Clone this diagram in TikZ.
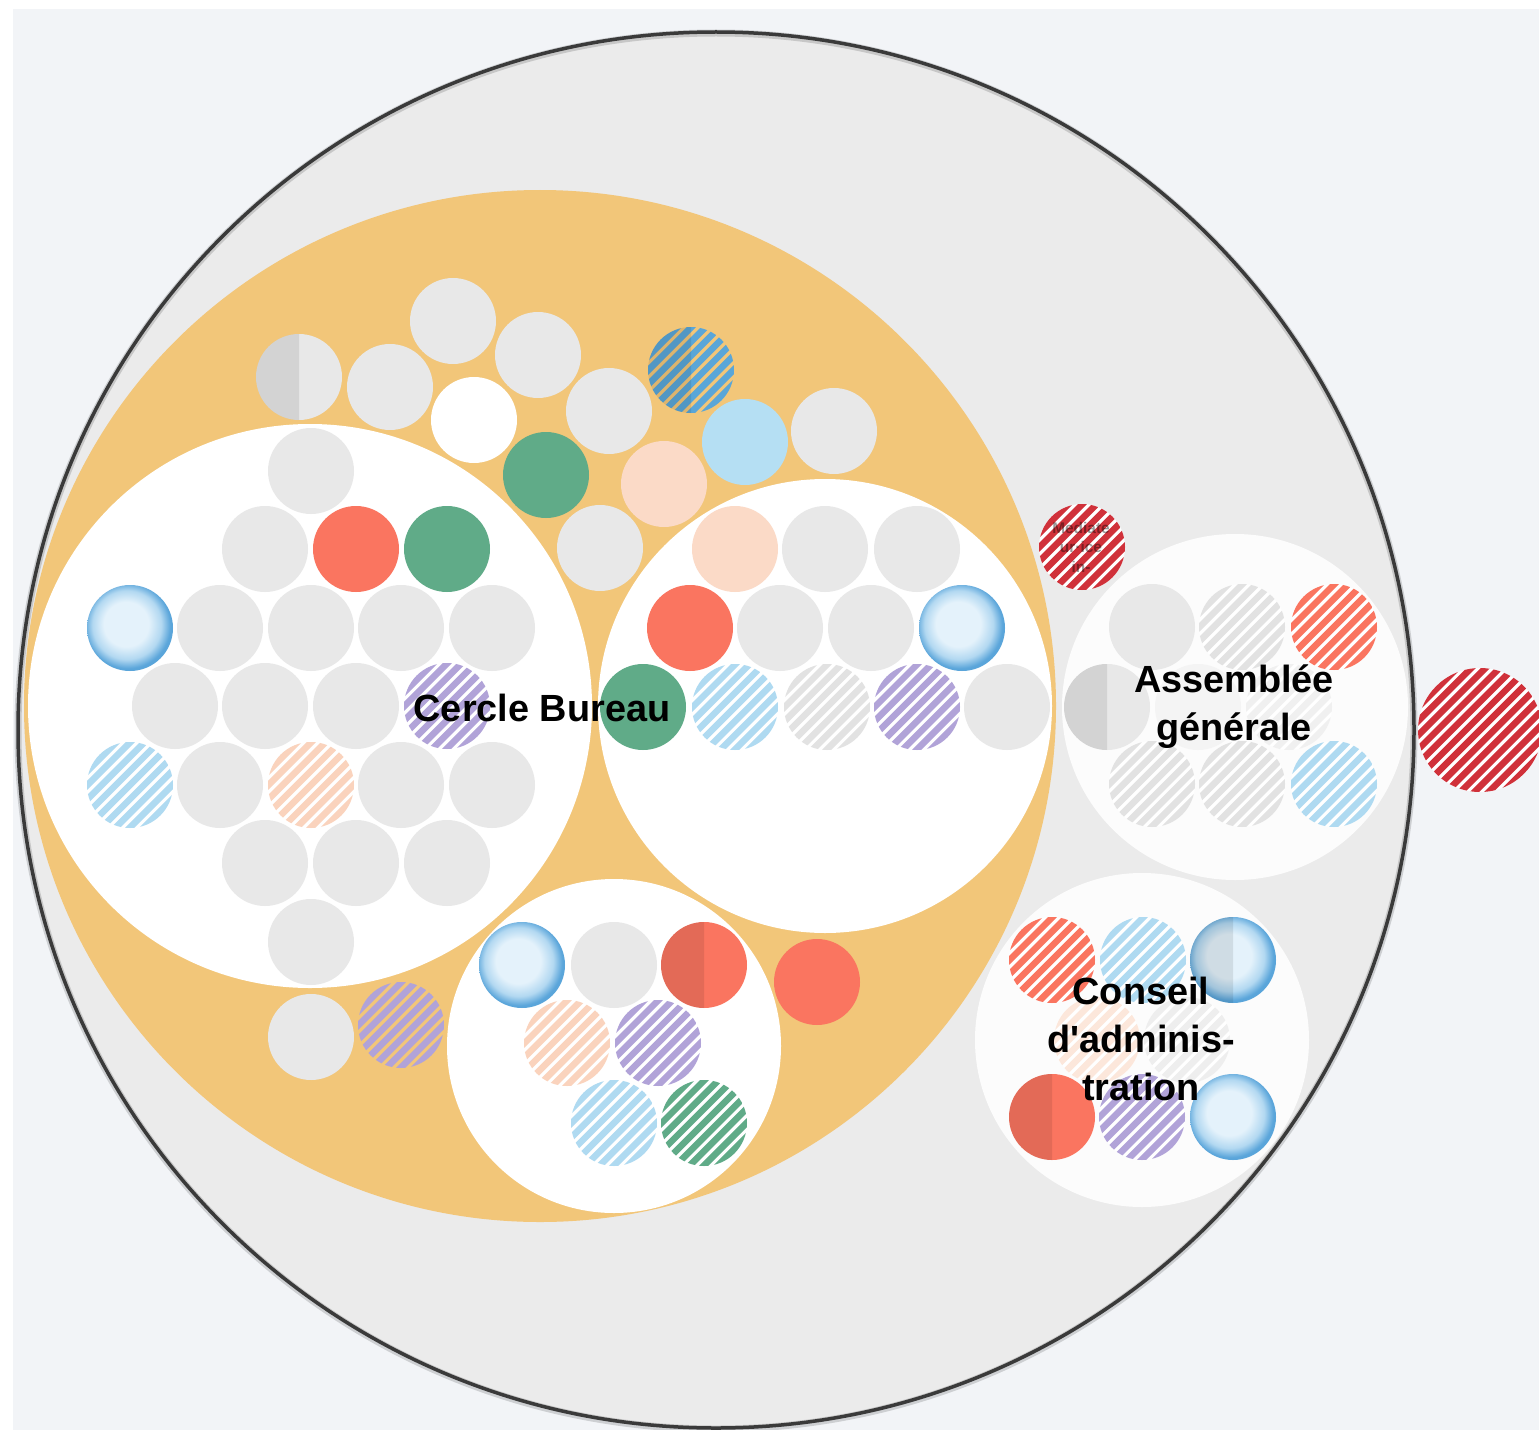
\documentclass[tikz,border=0pt]{standalone}
\usepackage{fontspec}
\setmainfont{Liberation Sans}[Ligatures=TeXOff]
\definecolor{pagebg}{HTML}{F2F4F7}
\definecolor{ringc}{HTML}{EBEBEB}
\definecolor{ringline}{HTML}{3A3A3A}
\definecolor{orangec}{HTML}{F2C679}
\definecolor{grayc}{HTML}{E8E8E8}
\definecolor{grayS}{HTML}{E2E2E2}
\definecolor{redc}{HTML}{FA7560}
\definecolor{dred}{HTML}{D0313A}
\definecolor{greenc}{HTML}{60AB88}
\definecolor{purpleS}{HTML}{B1A3D8}
\definecolor{lblue}{HTML}{B5DFF3}
\definecolor{lblueS}{HTML}{AFDAF1}
\definecolor{blueS}{HTML}{5AA6D8}
\definecolor{peachc}{HTML}{FBDAC7}
\definecolor{peachS}{HTML}{FAD3BD}
\definecolor{glA}{HTML}{E4F2FB}
\definecolor{glB}{HTML}{B2D8F1}
\definecolor{glC}{HTML}{5AA5DA}
\pgfdeclareradialshading{glossy}{\pgfqpoint{-3bp}{3bp}}{color(0bp)=(glA);color(13bp)=(glA);color(20bp)=(glB);color(25bp)=(glC);color(50bp)=(glC)}
\newcommand\C[3]{\fill[#3] (#1,#2) circle (43);}
\newcommand\GC[2]{\shade[shading=glossy] (#1,#2) circle (43);}
\newcommand\DL[2]{\begin{scope}\clip ({#1-50},{#2-50}) rectangle (#1,{#2+50});\fill[black,opacity=.09] (#1,#2) circle (43);\end{scope}}
\newcommand\HC[4]{\path[#4] (#1,#2) circle (43);
  \begin{scope}[shift={(#1,#2)}]
  \clip (0,0) circle (43);
  \foreach \k in {-5,...,5}{\draw[#3,line width=6.5bp] ({\k*14.14-60},60) -- ++(120,-120);}
  \end{scope}}
\tikzset{lab/.style={font=\bfseries\fontsize{38}{48}\selectfont,text=black,align=center,inner sep=0pt}}
\begin{document}
\begin{tikzpicture}[x=1bp,y=-1bp]
\useasboundingbox (0,0) rectangle (1539,1430);
\fill[white] (0,0) rectangle (1539,1430);
\fill[pagebg] (13,9) rectangle (1539,1430);
% big ring
\fill[ringc] (716,730) circle (698);
\draw[black,opacity=.15,line width=7bp] (716,731) circle (698);
\draw[ringline,line width=3.5bp] (716,730) circle (698);
% orange
\fill[orangec] (540,706) circle (516);
% white containers
\fill[white] (310,706) circle (282);
\fill[white] (825,706) circle (227);
\fill[white] (614,1046) circle (167);
\fill[white,opacity=.85] (1235,707) circle (173);
\fill[white,opacity=.85] (1142,1040) circle (167);
% top cluster in orange
\C{299}{377}{grayc}\DL{299}{377}
\C{390}{387}{grayc}
\C{453}{321}{grayc}
\C{538}{355}{grayc}
\C{474}{420}{white}
\C{609}{411}{grayc}
\HC{691}{370}{blueS}{}\DL{691}{370}
\C{745}{442}{lblue}
\C{834}{431}{grayc}
\C{546}{475}{greenc}
\C{664}{484}{peachc}
\C{600}{548}{grayc}
% Cercle Bureau
\C{311}{471}{grayc}
\C{265}{549}{grayc}\C{356}{549}{redc}\C{447}{549}{greenc}
\GC{130}{628}\C{220}{628}{grayc}\C{311}{628}{grayc}\C{401}{628}{grayc}\C{492}{628}{grayc}
\C{175}{706}{grayc}\C{265}{706}{grayc}\C{356}{706}{grayc}\HC{447}{706}{purpleS}{fill=white}
\HC{130}{785}{lblueS}{fill=white}\C{220}{785}{grayc}\HC{311}{785}{peachS}{fill=white}\C{401}{785}{grayc}\C{492}{785}{grayc}
\C{265}{863}{grayc}\C{356}{863}{grayc}\C{447}{863}{grayc}
\C{311}{942}{grayc}
% second circle
\C{735}{549}{peachc}\C{825}{549}{grayc}\C{917}{549}{grayc}
\C{690}{628}{redc}\C{780}{628}{grayc}\C{871}{628}{grayc}\GC{962}{628}
\C{643}{707}{greenc}\HC{735}{707}{lblueS}{fill=white}\HC{827}{707}{grayS}{fill=white}\HC{917}{707}{purpleS}{fill=white}\C{1007}{707}{grayc}
% orange extras
\C{311}{1037}{grayc}
\HC{401}{1025}{purpleS}{}
\C{817}{982}{redc}
% bottom circle
\GC{522}{965}\C{614}{965}{grayc}\C{704}{965}{redc}\DL{704}{965}
\HC{567}{1043}{peachS}{fill=white}\HC{658}{1043}{purpleS}{fill=white}
\HC{614}{1123}{lblueS}{fill=white}\HC{704}{1123}{greenc}{fill=white}
% Assemblee
\C{1152}{627}{grayc}\HC{1242}{627}{grayS}{fill=white}\HC{1334}{627}{redc}{fill=white}
\C{1107}{707}{grayc}\DL{1107}{707}\C{1198}{707}{grayc!50!white}\HC{1289}{707}{grayS!50!white}{fill=white}
\HC{1152}{784}{grayS}{fill=white}\HC{1242}{784}{grayS}{fill=white}\HC{1334}{784}{lblueS}{fill=white}
% Conseil
\HC{1052}{960}{redc}{fill=white}\HC{1143}{960}{lblueS}{fill=white}\GC{1233}{960}\DL{1233}{960}
\HC{1097}{1040}{peachS!55!white}{fill=white}\HC{1187}{1040}{grayS!60!white}{fill=white}
\C{1052}{1117}{redc}\DL{1052}{1117}\HC{1142}{1117}{purpleS}{fill=white}\GC{1233}{1117}
% mediateur
\HC{1082}{547}{dred}{fill=white}
% outside big red
\fill[white] (1480,730) circle (62);
\begin{scope}[shift={(1480,730)}]
\clip (0,0) circle (62);
\foreach \k in {-7,...,7}{\draw[dred,line width=6.5bp] ({\k*14.14-90},90) -- ++(180,-180);}
\end{scope}
% labels
\node[lab] (bureau) at (542,708) {Cercle Bureau};
\node[lab] (ag) at (1234,707) {Assembl\'ee\\g\'en\'erale};
\node[lab] (ca) at (1141,1039) {Conseil\\d'adminis-\\tration};
\node[font=\bfseries\fontsize{15.5}{19.5}\selectfont,text=black,text opacity=.4,align=center,inner sep=0pt] (med) at (1081,547) {Mediate\\ur·ice\\in-};
\end{tikzpicture}
\end{document}
